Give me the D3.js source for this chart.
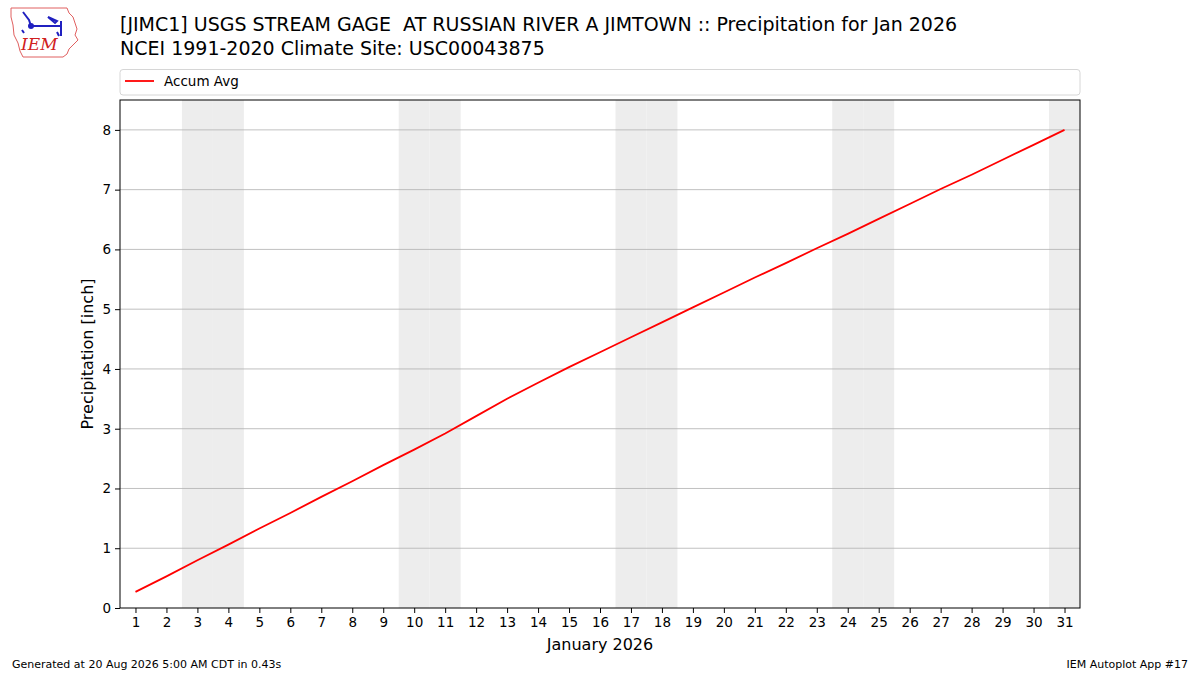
<!DOCTYPE html>
<html>
<head>
<meta charset="utf-8">
<script src="https://cdn.jsdelivr.net/npm/d3@7"></script>
<style>
  body { margin: 0; background: #fff; }
  svg { font-family: "DejaVu Sans", sans-serif; }
  text { white-space: pre; }
</style>
</head>
<body>
<div id="chart"></div>
<script>
// Days of January 2026 and the accumulated climatology (inches)
const days = d3.range(1, 32);
const accumAvg = [0.27, 0.53, 0.80, 1.06, 1.33, 1.59, 1.86, 2.12, 2.39, 2.65,
  2.92, 3.21, 3.50, 3.77, 4.03, 4.28, 4.53, 4.78, 5.03, 5.28,
  5.53, 5.77, 6.02, 6.26, 6.51, 6.76, 7.01, 7.25, 7.50, 7.75, 8.00];
// weekend days get a grey band
const weekendDays = [3, 4, 10, 11, 17, 18, 24, 25, 31];
const yTicks = [0, 1, 2, 3, 4, 5, 6, 7, 8];

const titleLines = ["[JIMC1] USGS STREAM GAGE  AT RUSSIAN RIVER A JIMTOWN :: Precipitation for Jan 2026",
  "NCEI 1991-2020 Climate Site: USC00043875"];

var svgWidth = 1200, svgHeight = 675;
var margin = {top: 100, right: 120, bottom: 67, left: 120};
var width = svgWidth - margin.left - margin.right;
var height = svgHeight - margin.top - margin.bottom;

var svg = d3.select("#chart")
  .append("svg")
  .attr("width", svgWidth)
  .attr("height", svgHeight);

// logo (rough drawing of the IEM badge)
var logo = svg.append("g").attr("transform", "translate(9, 7)");
logo.append("path")
  .attr("d", "M2,1 L58,1 L60,6 L64,10 L66,16 L68,22 L66,28 L69,33 L64,38 L60,42 L58,47 L54,50 L14,50 L11,44 L9,36 L5,28 L4,18 L2,10 Z")
  .attr("fill", "none").attr("stroke", "#e06060").attr("stroke-width", 1);
logo.append("path")
  .attr("d", "M14,5 L17,9 L20,13 L22,19 M22,19 L52,19 M39,10 L48,14 L46,16 Z M52,14 L52,29 M48,25 L50,29 M13,23 L15,26")
  .attr("fill", "none").attr("stroke", "#2020c0").attr("stroke-width", 2);
logo.append("circle").attr("cx", 22).attr("cy", 19).attr("r", 3).attr("fill", "#2020c0");
logo.append("text")
  .attr("x", 12).attr("y", 43)
  .style("font-family", "'DejaVu Serif', 'Liberation Serif', serif")
  .style("font-style", "italic")
  .style("font-size", "17px")
  .attr("fill", "#d02020")
  .text("IEM");

// titles
svg.selectAll("text.title")
  .data(titleLines)
  .enter()
  .append("text")
  .attr("class", "title")
  .attr("x", 120)
  .attr("y", (d, i) => 31 + i * 24)
  .style("font-size", "19px")
  .attr("fill", "#000")
  .text(d => d);

var chartGroup = svg.append("g")
  .attr("transform", `translate(${margin.left}, ${margin.top})`);

var xScale = d3.scaleLinear().domain([0.5, 31.5]).range([0, width]);
var yScale = d3.scaleLinear().domain([0, 8.5]).range([height, 0]);

// weekend bands
chartGroup.selectAll("rect.weekend")
  .data(weekendDays)
  .enter()
  .append("rect")
  .attr("class", "weekend")
  .attr("x", d => xScale(d - 0.5))
  .attr("y", 0)
  .attr("width", d => Math.min(xScale(d + 0.5), width) - xScale(d - 0.5))
  .attr("height", height)
  .attr("fill", "#ededed");

// horizontal grid
chartGroup.selectAll("line.grid")
  .data(yTicks.slice(1))
  .enter()
  .append("line")
  .attr("class", "grid")
  .attr("x1", 0).attr("x2", width)
  .attr("y1", d => yScale(d)).attr("y2", d => yScale(d))
  .attr("stroke", "#b0b0b0").attr("stroke-width", 0.8);

// accum line
var line = d3.line()
  .x((d, i) => xScale(days[i]))
  .y(d => yScale(d));

chartGroup.append("path")
  .datum(accumAvg)
  .attr("d", line)
  .attr("fill", "none")
  .attr("stroke", "#ff0000")
  .attr("stroke-width", 1.8);

// axes
var bottomAxis = d3.axisBottom(xScale).tickValues(days).tickFormat(d3.format("d")).tickSize(5).tickPadding(4);
var leftAxis = d3.axisLeft(yScale).tickValues(yTicks).tickSize(5).tickPadding(4);

var xAxis = chartGroup.append("g")
  .attr("transform", `translate(0, ${height})`)
  .call(bottomAxis);
var yAxis = chartGroup.append("g").call(leftAxis);

[xAxis, yAxis].forEach(function(ax) {
  ax.select(".domain").remove();
  ax.selectAll("text").style("font-size", "13.5px").style("font-family", "'DejaVu Sans', sans-serif").attr("fill", "#000");
  ax.selectAll("line").attr("stroke", "#000").attr("stroke-width", 1);
});

// frame
chartGroup.append("rect")
  .attr("x", 0).attr("y", 0)
  .attr("width", width).attr("height", height)
  .attr("fill", "none").attr("stroke", "#000").attr("stroke-width", 1);

// axis labels
chartGroup.append("text")
  .attr("x", width / 2)
  .attr("y", height + 42)
  .attr("text-anchor", "middle")
  .style("font-size", "16px")
  .text("January 2026");

chartGroup.append("text")
  .attr("transform", "rotate(-90)")
  .attr("x", -(height / 2))
  .attr("y", -27)
  .attr("text-anchor", "middle")
  .style("font-size", "16px")
  .text("Precipitation [inch]");

// legend box
var legend = svg.append("g").attr("transform", "translate(120, 69.5)");
legend.append("rect")
  .attr("width", 960).attr("height", 25.5)
  .attr("rx", 3)
  .attr("fill", "#fff").attr("stroke", "#d6d6d6").attr("stroke-width", 1);
legend.append("line")
  .attr("x1", 5).attr("x2", 34).attr("y1", 11.5).attr("y2", 11.5)
  .attr("stroke", "#ff0000").attr("stroke-width", 1.8);
legend.append("text")
  .attr("x", 44).attr("y", 16.5)
  .style("font-size", "13.5px")
  .text("Accum Avg");

// footer
svg.append("text")
  .attr("x", 12).attr("y", 668)
  .style("font-size", "11px")
  .text("Generated at 20 Aug 2026 5:00 AM CDT in 0.43s");
svg.append("text")
  .attr("x", 1188).attr("y", 668)
  .attr("text-anchor", "end")
  .style("font-size", "11px")
  .text("IEM Autoplot App #17");
</script>
</body>
</html>
